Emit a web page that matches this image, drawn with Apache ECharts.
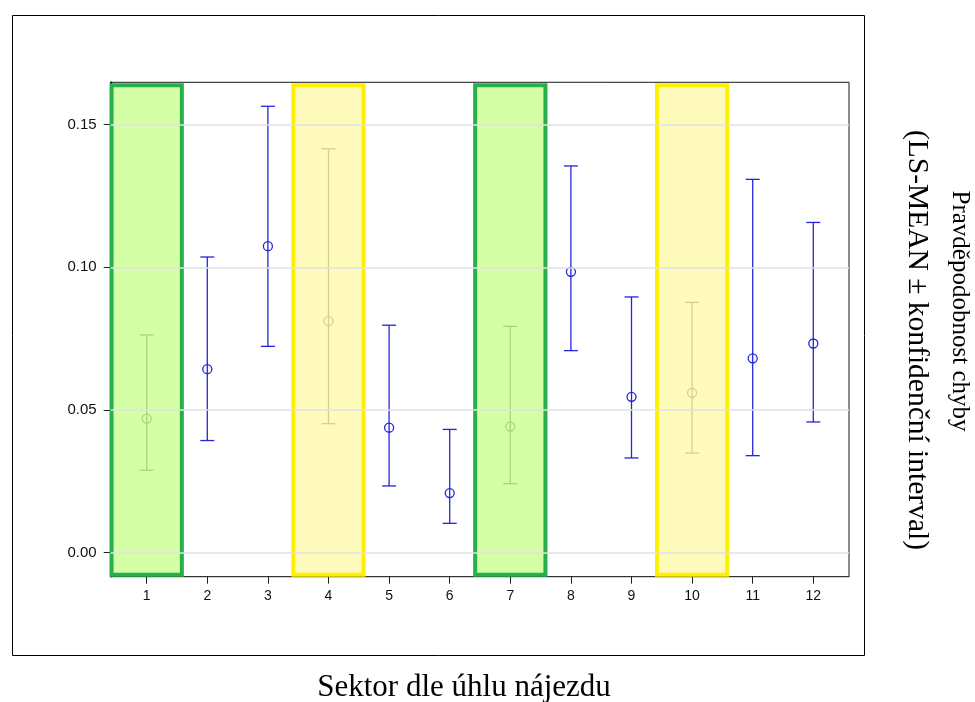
<!DOCTYPE html>
<html>
<head>
<meta charset="utf-8">
<script src="https://cdn.jsdelivr.net/npm/echarts@6/dist/echarts.min.js"></script>
<style>
html,body{margin:0;padding:0;background:#fff;}
#chart{width:975px;height:702px;}
</style>
</head>
<body>
<div id="chart"></div>
<script>
// ---- data ----
const categories = [1, 2, 3, 4, 5, 6, 7, 8, 9, 10, 11, 12];
const means  = [0.0470, 0.0643, 0.1074, 0.0812, 0.0438, 0.0209, 0.0442, 0.0984, 0.0546, 0.0560, 0.0681, 0.0733];
const lowers = [0.0289, 0.0393, 0.0723, 0.0452, 0.0234, 0.0103, 0.0242, 0.0708, 0.0332, 0.0349, 0.0340, 0.0458];
const uppers = [0.0763, 0.1036, 0.1564, 0.1415, 0.0797, 0.0432, 0.0793, 0.1355, 0.0896, 0.0877, 0.1308, 0.1157];
const highlightSectors = [1, 4, 7, 10];
const highlightKinds   = ['green', 'yellow', 'green', 'yellow'];
const yTicks = [0, 0.05, 0.10, 0.15];
const yTickLabels = ['0.00', '0.05', '0.10', '0.15'];
const xTitle = 'Sektor dle úhlu nájezdu';
const yTitleLine1 = 'Pravděpodobnost chyby';
const yTitleLine2 = '(LS-MEAN ± konfidenční interval)';

// ---- axis ranges & styles ----
const X_MIN = 0.406, X_MAX = 12.589;
const Y_MIN = -0.0084, Y_MAX = 0.1648;
const HALF = 0.58;
const BLUE = '#2424dc', GREY = '#a9a9a9';
const kindStyle = {
  green:  { fill: 'rgba(169,255,77,0.5)', stroke: '#25b04b' },
  yellow: { fill: 'rgba(255,247,123,0.5)', stroke: '#fff000' }
};

const errData = categories.map((c, i) => [c, lowers[i], uppers[i], means[i], highlightSectors.indexOf(c) >= 0 ? 1 : 0]);
const hlData = highlightSectors.map((c, i) => [c, highlightKinds[i] === 'green' ? 0 : 1]);

const chart = echarts.init(document.getElementById('chart'), null, { renderer: 'canvas' });
chart.setOption({
  animation: false,
  backgroundColor: '#fff',
  grid: { left: 110.7, top: 82.3, right: 126, bottom: 125.3, show: true, borderColor: '#1a1a1a', borderWidth: 1, containLabel: false },
  xAxis: {
    type: 'value', min: X_MIN, max: X_MAX,
    axisLine: { show: true, onZero: false, lineStyle: { color: '#333', width: 1.2 } },
    axisTick: { show: true, length: 7, customValues: categories, lineStyle: { color: '#222', width: 1 } },
    axisLabel: { customValues: categories, margin: 12, color: '#111', fontSize: 14, fontFamily: 'Liberation Sans, Arial, sans-serif', formatter: v => String(v) },
    splitLine: { show: false }
  },
  yAxis: {
    type: 'value', min: Y_MIN, max: Y_MAX,
    axisLine: { show: true, onZero: false, lineStyle: { color: '#000', width: 1.6 } },
    axisTick: { show: true, length: 7, customValues: yTicks, lineStyle: { color: '#222', width: 1 } },
    axisLabel: { customValues: yTicks, margin: 14, color: '#111', fontSize: 15, fontFamily: 'Liberation Sans, Arial, sans-serif',
      formatter: v => { const i = yTicks.findIndex(t => Math.abs(t - v) < 1e-9); return i >= 0 ? yTickLabels[i] : ''; } },
    splitLine: { show: false }
  },
  graphic: [
    { type: 'rect', shape: { x: 12.5, y: 15.5, width: 852, height: 640 }, style: { fill: 'none', stroke: '#000', lineWidth: 1 }, z: -10, silent: true },
    { type: 'text', x: 464, y: 688, style: { text: xTitle, font: '31px "Liberation Serif", "Times New Roman", serif', fill: '#000', textAlign: 'center', textVerticalAlign: 'middle' } },
    { type: 'text', x: 960, y: 311, rotation: -Math.PI / 2, style: { text: yTitleLine1, font: '25px "Liberation Serif", "Times New Roman", serif', fill: '#000', textAlign: 'center', textVerticalAlign: 'middle' } },
    { type: 'text', x: 917, y: 340, rotation: -Math.PI / 2, style: { text: yTitleLine2, font: '29.5px "Liberation Serif", "Times New Roman", serif', fill: '#000', textAlign: 'center', textVerticalAlign: 'middle' } }
  ],
  series: [
    {
      type: 'line', data: [], silent: true,
      markLine: {
        silent: true, symbol: 'none', label: { show: false },
        lineStyle: { color: '#e2e2e2', width: 1.5, type: 'solid' },
        data: yTicks.map(v => ({ yAxis: v }))
      },
      z: 1
    },
    {
      type: 'custom', data: errData, z: 2, silent: true,
      encode: { x: 0, y: [1, 2, 3] },
      renderItem: function (params, api) {
        const x = api.value(0), lo = api.value(1), hi = api.value(2), m = api.value(3), muted = api.value(4);
        const pHi = api.coord([x, hi]), pLo = api.coord([x, lo]), pM = api.coord([x, m]);
        const col = muted ? GREY : BLUE;
        const cw = 7, lw = 1.3;
        const ls = { stroke: col, lineWidth: lw };
        return {
          type: 'group',
          children: [
            { type: 'line', shape: { x1: pHi[0], y1: pHi[1], x2: pLo[0], y2: pLo[1] }, style: ls },
            { type: 'line', shape: { x1: pHi[0] - cw, y1: pHi[1], x2: pHi[0] + cw, y2: pHi[1] }, style: ls },
            { type: 'line', shape: { x1: pLo[0] - cw, y1: pLo[1], x2: pLo[0] + cw, y2: pLo[1] }, style: ls },
            { type: 'circle', shape: { cx: pM[0], cy: pM[1], r: 4.5 }, style: { fill: 'rgba(255,255,255,0)', stroke: col, lineWidth: lw } }
          ]
        };
      }
    },
    {
      type: 'custom', data: hlData, z: 3, silent: true,
      encode: { x: 0 },
      renderItem: function (params, api) {
        const c = api.value(0), k = api.value(1);
        const st = kindStyle[k === 0 ? 'green' : 'yellow'];
        const p1 = api.coord([c - HALF, Y_MAX]), p2 = api.coord([c + HALF, Y_MIN]);
        return {
          type: 'rect',
          shape: { x: p1[0], y: p1[1] + 3, width: p2[0] - p1[0], height: (p2[1] - 2) - (p1[1] + 3) },
          style: { fill: st.fill, stroke: st.stroke, lineWidth: 4 }
        };
      }
    }
  ]
});
</script>
</body>
</html>
